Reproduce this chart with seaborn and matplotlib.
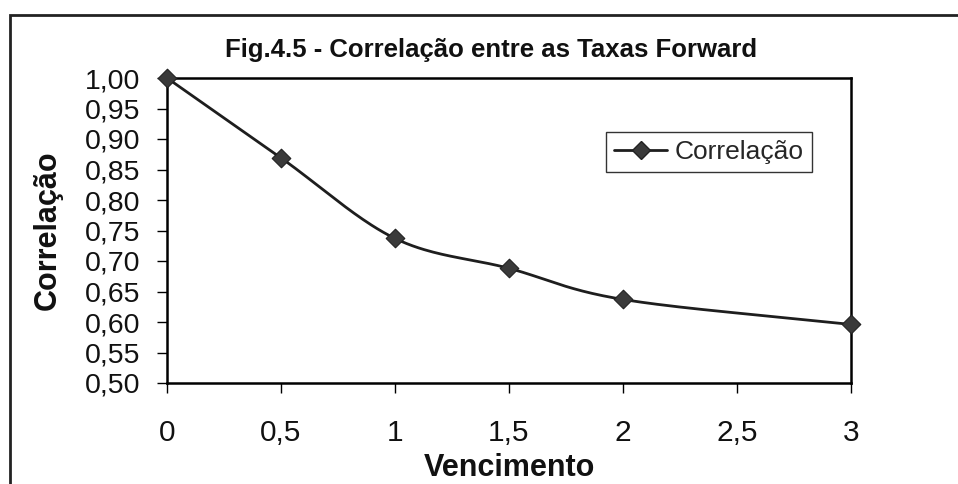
import numpy as np
import pandas as pd
import matplotlib
matplotlib.use("Agg")
import matplotlib.pyplot as plt
import seaborn as sns
from matplotlib.lines import Line2D
from matplotlib.patches import Rectangle

# ---- data ----
vencimento = [0, 0.5, 1, 1.5, 2, 3]
correlacao = [1.00, 0.869, 0.737, 0.688, 0.637, 0.596]
x_ticks = [0, 0.5, 1, 1.5, 2, 2.5, 3]
x_tick_labels = ["0", "0,5", "1", "1,5", "2", "2,5", "3"]
y_ticks = [0.50, 0.55, 0.60, 0.65, 0.70, 0.75, 0.80, 0.85, 0.90, 0.95, 1.00]
y_tick_labels = ["0,50", "0,55", "0,60", "0,65", "0,70", "0,75", "0,80",
                 "0,85", "0,90", "0,95", "1,00"]
title = "Fig.4.5 - Correlação entre as Taxas Forward"
x_label = "Vencimento"
y_label = "Correlação"
series_name = "Correlação"

sns.set_theme(style="white")
plt.rcParams['font.family'] = ['Liberation Sans', 'DejaVu Sans']

def smooth(xs, ys, n=40):
    # Catmull-Rom spline through the data points (Excel-like smoothed line)
    xs = np.asarray(xs, float); ys = np.asarray(ys, float)
    px = np.concatenate([[2*xs[0]-xs[1]], xs, [2*xs[-1]-xs[-2]]])
    py = np.concatenate([[2*ys[0]-ys[1]], ys, [2*ys[-1]-ys[-2]]])
    outx, outy = [], []
    t = np.linspace(0, 1, n)
    for i in range(1, len(px)-2):
        for P, out in ((px, outx), (py, outy)):
            p0, p1, p2, p3 = P[i-1], P[i], P[i+1], P[i+2]
            c = 0.5*((2*p1) + (-p0+p2)*t + (2*p0-5*p1+4*p2-p3)*t**2 + (-p0+3*p1-3*p2+p3)*t**3)
            out.extend(c.tolist())
    return np.array(outx), np.array(outy)

sx, sy = smooth(vencimento, correlacao)
curve = pd.DataFrame({"x": sx, "y": sy})
pts = pd.DataFrame({"x": vencimento, "y": correlacao})

fig = plt.figure(figsize=(9.58, 4.84), dpi=100)
ax = fig.add_axes([167/958, 1-383/484, (851-167)/958, (383-78)/484])

sns.lineplot(data=curve, x="x", y="y", ax=ax, color="#1e1e1e", linewidth=2.0,
             sort=False, estimator=None)
sns.scatterplot(data=pts, x="x", y="y", ax=ax, marker="D", s=90,
                color="#3a3a3a", edgecolor="#222222", linewidth=0.8,
                zorder=5, clip_on=False)

ax.set_xlim(0, 3)
ax.set_ylim(0.5, 1.0)
ax.set_xticks(x_ticks)
ax.set_xticklabels(x_tick_labels)
ax.set_yticks(y_ticks)
ax.set_yticklabels(y_tick_labels)
ax.tick_params(axis="both", which="major", direction="out", length=7,
               width=1.0, color="black", labelcolor="#111111",
               bottom=True, left=True)
ax.tick_params(axis="x", pad=19, labelsize=21.5)
ax.tick_params(axis="y", pad=12, labelsize=20.5)
for sp in ax.spines.values():
    sp.set_color("black")
    sp.set_linewidth(1.8)

ax.set_xlabel(x_label, fontsize=22, fontweight="bold", color="#111111")
ax.set_ylabel(y_label, fontsize=22, fontweight="bold", color="#111111")
ax.xaxis.set_label_coords(0.5, -0.228)
ax.yaxis.set_label_coords(-0.152, 0.5)

handle = Line2D([], [], color="#1e1e1e", linewidth=2.0, marker="D",
                markersize=9, markerfacecolor="#3a3a3a", markeredgecolor="#222222")
leg = ax.legend([handle], [series_name], loc="upper right",
                bbox_to_anchor=(0.943, 0.822), fontsize=19, frameon=True,
                fancybox=False, edgecolor="black", handlelength=2.0,
                handletextpad=0.3, borderpad=0.3, borderaxespad=0)
leg.get_frame().set_linewidth(1.0)

fig.text(491/958, 1-57/484, title, ha="center", va="baseline",
         fontsize=18.5, fontweight="bold", color="#111111")

fig.patches.append(Rectangle((10/958, -0.1), 1.2, 1-15/484+0.1,
                             transform=fig.transFigure, fill=False,
                             edgecolor="#222222", linewidth=2.0))

fig.savefig("out.png", dpi=100, facecolor="white")
